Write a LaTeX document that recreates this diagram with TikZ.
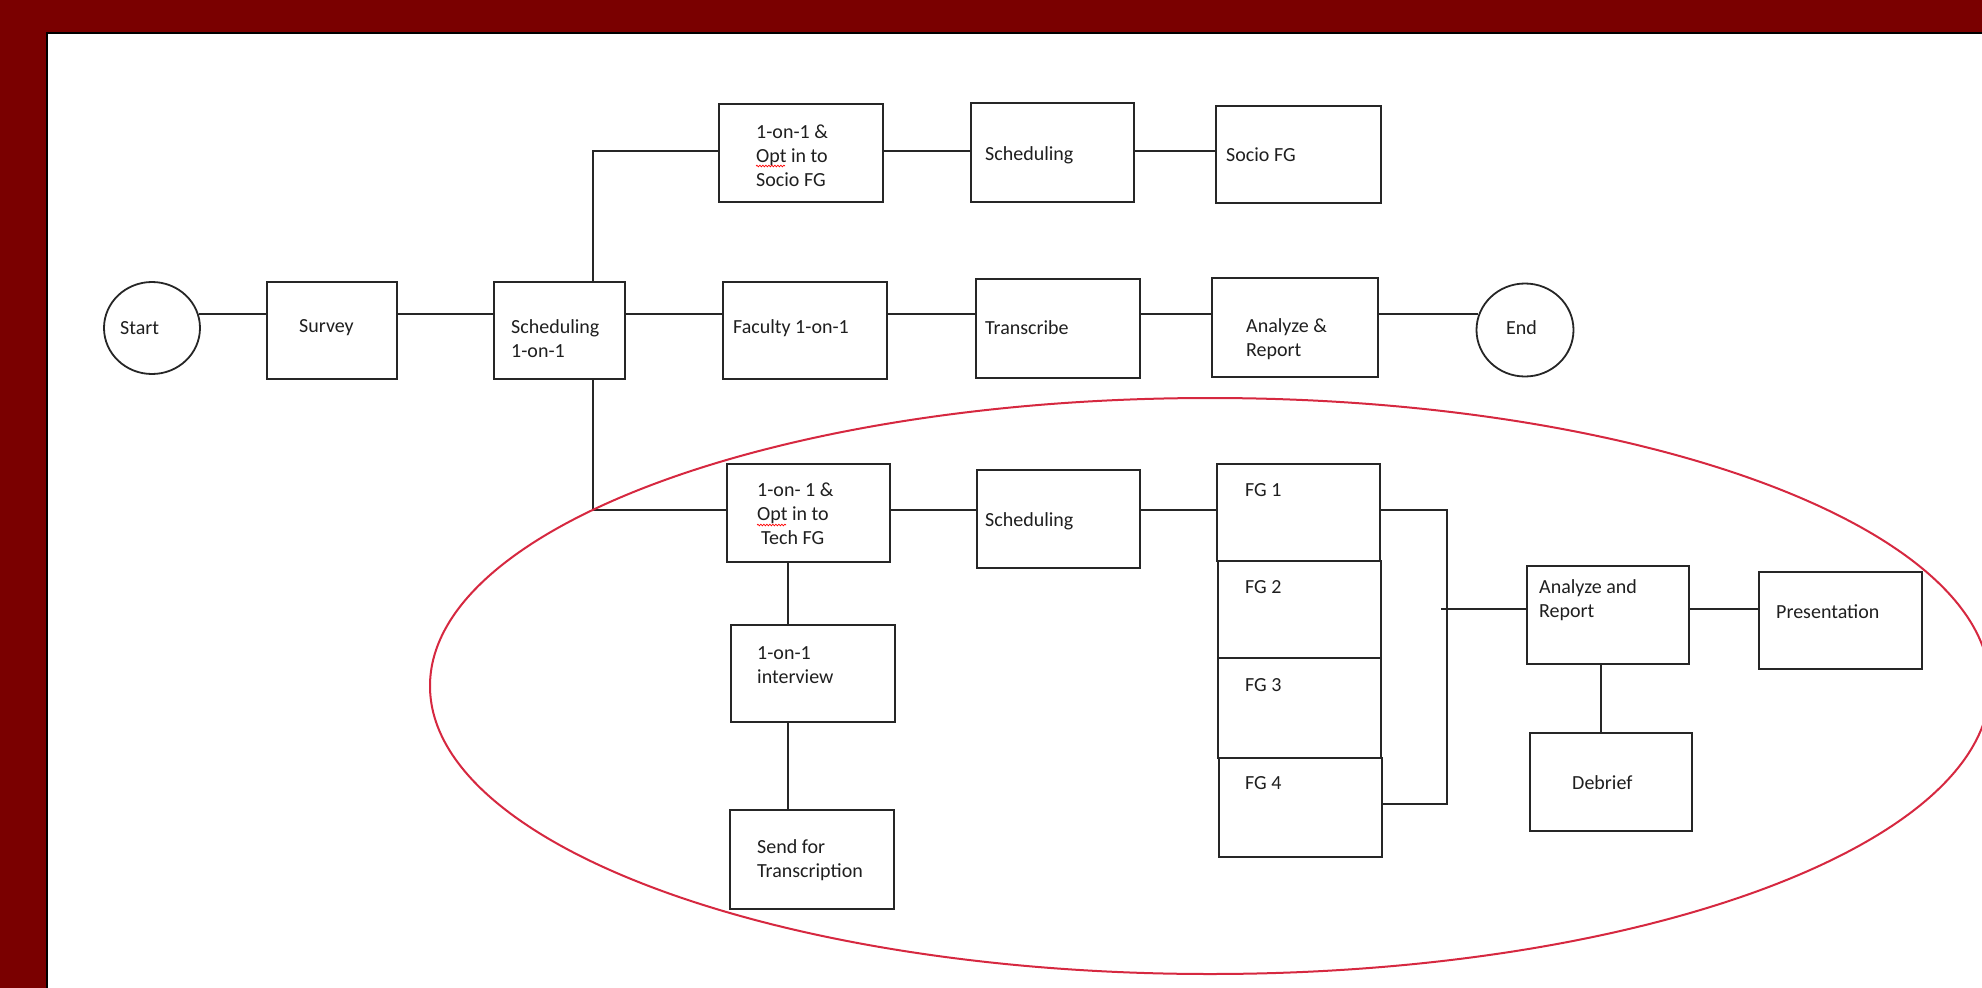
\documentclass[tikz,border=0pt]{standalone}
\usepackage{fontspec}
\setmainfont{Carlito}
\usetikzlibrary{shapes.geometric,decorations.pathmorphing}
\definecolor{maroonbg}{RGB}{122,0,0}
\definecolor{ovalred}{RGB}{214,40,64}
\begin{document}
\begin{tikzpicture}[x=1pt,y=-1pt,
  box/.style={draw=black!85, line width=1.8pt, rectangle, inner sep=0pt},
  term/.style={draw=black!85, line width=1.8pt, ellipse, inner sep=0pt},
  txt/.style={font=\fontsize{20}{24}\selectfont, align=left, inner sep=0pt, anchor=west, text=black!88},
  conn/.style={draw=black!85, line width=1.8pt},
  squig/.style={draw=red, line width=0.7pt, decorate, decoration={snake, amplitude=0.8pt, segment length=3pt}},
]
\useasboundingbox (0,0) rectangle (1982,988);
\clip (0,0) rectangle (1982,988);
\fill[maroonbg] (0,0) rectangle (1982,988);
\fill[white] (47,33) rectangle (1982,988);
\draw[black, line width=2pt] (47,988) -- (47,33) -- (1982,33);

% nodes
\node[term, minimum width=96pt, minimum height=92pt] (start) at (152,328) {};
\node[box, minimum width=130pt, minimum height=97pt] (survey) at (332,330.5) {};
\node[box, minimum width=131pt, minimum height=97pt] (sched1) at (559.5,330.5) {};
\node[box, minimum width=164pt, minimum height=98pt] (socioopt) at (801,153) {};
\node[box, minimum width=163pt, minimum height=99pt] (schedtop) at (1052.5,152.5) {};
\node[box, minimum width=165pt, minimum height=97pt] (sociofg) at (1298.5,154.5) {};
\node[box, minimum width=164pt, minimum height=97pt] (faculty) at (805,330.5) {};
\node[box, minimum width=164pt, minimum height=99pt] (transcribe) at (1058,328.5) {};
\node[box, minimum width=166pt, minimum height=99pt] (analyze1) at (1295,327.5) {};
\node[term, minimum width=97pt, minimum height=93pt] (end) at (1525,330) {};
\node[box, minimum width=163pt, minimum height=98pt] (techopt) at (808.5,513) {};
\node[box, minimum width=163pt, minimum height=98pt] (schedbot) at (1058.5,519) {};
\node[box, minimum width=164pt, minimum height=97pt] (interview) at (813,673.5) {};
\node[box, minimum width=164pt, minimum height=99pt] (send) at (812,859.5) {};
\node[box, minimum width=163pt, minimum height=97pt] (fg1) at (1298.5,512.5) {};
\node[box, minimum width=163pt, minimum height=97pt] (fg2) at (1299.5,609.5) {};
\node[box, minimum width=163pt, minimum height=100pt] (fg3) at (1299.5,708) {};
\node[box, minimum width=163pt, minimum height=99pt] (fg4) at (1300.5,807.5) {};
\node[box, minimum width=162pt, minimum height=98pt] (analyze2) at (1608,615) {};
\node[box, minimum width=163pt, minimum height=97pt] (present) at (1840.5,620.5) {};
\node[box, minimum width=162pt, minimum height=98pt] (debrief) at (1611,782) {};

% helper coordinates
\coordinate (row1) at (0,314);
\coordinate (rowtop) at (0,151);
\coordinate (rowbot) at (0,510);
\coordinate (row3) at (0,609);
\coordinate (fg4tap) at (0,804);
\coordinate (trunk) at (593,0);
\coordinate (vtech) at (788,0);
\coordinate (brk) at (1447,0);
\coordinate (tick) at (1441,609);
\coordinate (vdeb) at (1601,0);

% connectors
\draw[conn] (start.17 |- row1) -- (survey.west |- row1);
\draw[conn] (survey.east |- row1) -- (sched1.west |- row1);
\draw[conn] (sched1.east |- row1) -- (faculty.west |- row1);
\draw[conn] (faculty.east |- row1) -- (transcribe.west |- row1);
\draw[conn] (transcribe.east |- row1) -- (analyze1.west |- row1);
\draw[conn] (analyze1.east |- row1) -- (end.164 |- row1);
\draw[conn] (sched1.north -| trunk) -- (trunk |- rowtop) -- (socioopt.west |- rowtop);
\draw[conn] (sched1.south -| trunk) -- (trunk |- rowbot) -- (techopt.west |- rowbot);
\draw[conn] (socioopt.east |- rowtop) -- (schedtop.west |- rowtop);
\draw[conn] (schedtop.east |- rowtop) -- (sociofg.west |- rowtop);
\draw[conn] (techopt.east |- rowbot) -- (schedbot.west |- rowbot);
\draw[conn] (schedbot.east |- rowbot) -- (fg1.west |- rowbot);
\draw[conn] (techopt.south -| vtech) -- (interview.north -| vtech);
\draw[conn] (interview.south -| vtech) -- (send.north -| vtech);
\draw[conn] (fg1.east |- rowbot) -- (brk |- rowbot) -- (brk |- fg4tap) -- (fg4.east |- fg4tap);
\draw[conn] (tick) -- (analyze2.west |- tick);
\draw[conn] (analyze2.east |- row3) -- (present.west |- row3);
\draw[conn] (analyze2.south -| vdeb) -- (debrief.north -| vdeb);

% texts
\node[txt] (tstart) at (120,328) {Start};
\node[txt] (tsurvey) at (299,328) {Survey};
\node[txt] (tsched1) at (511,339) {Scheduling\\1-on-1};
\node[txt] (tsocioopt) at (756,156) {1-on-1 \&\\Opt in to\\Socio FG};
\node[txt] (tschedtop) at (985,155) {Scheduling};
\node[txt] (tsociofg) at (1226,155) {Socio FG};
\node[txt] (tfaculty) at (733,328) {Faculty 1-on-1};
\node[txt] (ttranscribe) at (985,328) {Transcribe};
\node[txt] (tanalyze1) at (1246,339) {Analyze \&\\Report};
\node[txt] (tend) at (1506,328) {End};
\node[txt] (ttechopt) at (757,514) {1-on- 1 \&\\Opt in to\\\hspace*{4pt}Tech FG};
\node[txt] (tschedbot) at (985,521) {Scheduling};
\node[txt] (tinterview) at (757,665) {1-on-1\\interview};
\node[txt] (tsend) at (757,860) {Send for\\Transcription};
\node[txt] (tfg1) at (1245,490) {FG 1};
\node[txt] (tfg2) at (1245,587) {FG 2};
\node[txt] (tfg3) at (1245,685) {FG 3};
\node[txt] (tfg4) at (1245,783) {FG 4};
\node[txt] (tanalyze2) at (1539,600) {Analyze and\\Report};
\node[txt] (tpresent) at (1776,612) {Presentation};
\node[txt] (tdebrief) at (1572,783) {Debrief};

% spell-check squiggles under "Opt"
\draw[squig] (756,166) -- (785,166);
\draw[squig] (757,525) -- (786,525);

% red oval
\draw[ovalred, line width=2pt] (1210,686) ellipse [x radius=780pt, y radius=288pt];
\end{tikzpicture}
\end{document}
